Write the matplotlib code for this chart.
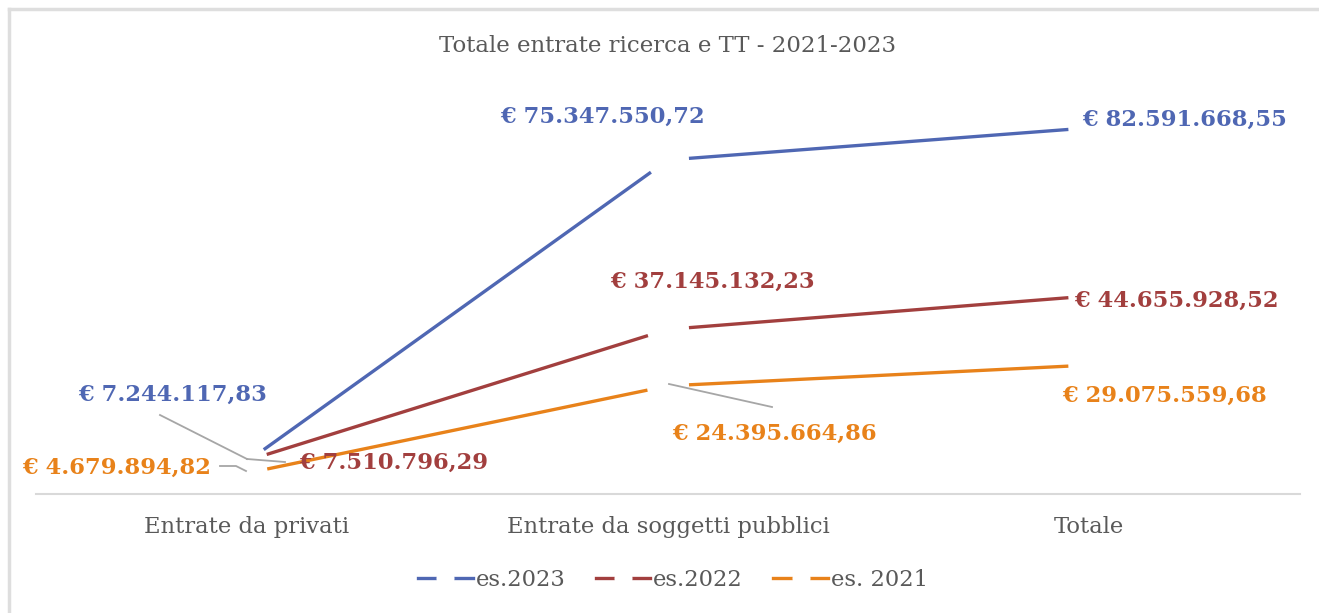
import numpy as np
import matplotlib.pyplot as plt
from matplotlib.lines import Line2D

# Entrate ricerca e TT per esercizio (euro)
categorie = ["Entrate da privati", "Entrate da soggetti pubblici", "Totale"]
es_2023 = [7244117.83, 75347550.72, 82591668.55]
es_2022 = [7510796.29, 37145132.23, 44655928.52]
es_2021 = [4679894.82, 24395664.86, 29075559.68]
serie_nomi = ["es.2023", "es.2022", "es. 2021"]

colori = ["#4f67b3", "#a23f3e", "#e8821a"]
grigio_testo = "#595959"
font = "DejaVu Serif"


def euro(v):
    s = f"{v:,.2f}"
    s = s.replace(",", "X").replace(".", ",").replace("X", ".")
    return "€ " + s


W, H = 1319, 613
fig = plt.figure(figsize=(W / 100, H / 100), dpi=100)
fig.patch.set_facecolor("white")

# area del grafico: x in pixel 36..1300, y in pixel 95..494
ax = fig.add_axes([36 / W, (H - 494) / H, (1300 - 36) / W, (494 - 95) / H])
ax.set_xlim(-0.5, 2.5)
ax.set_ylim(0, 90e6)
ax.axis("off")
ax.plot([-0.5, 2.5], [0, 0], color="#d9d9d9", lw=1.5, clip_on=False, zorder=1)

x = np.arange(len(categorie))
gap = 21  # pixel lasciati vuoti attorno a ogni punto

for vals, col in zip([es_2023, es_2022, es_2021], colori):
    pts = ax.transData.transform(np.column_stack([x, vals]))
    for p0, p1 in zip(pts[:-1], pts[1:]):
        u = (p1 - p0) / np.hypot(*(p1 - p0))
        a = ax.transData.inverted().transform([p0 + u * gap, p1 - u * gap])
        ax.plot(a[:, 0], a[:, 1], color=col, lw=2.4, solid_capstyle="butt", zorder=3)


# etichette dati (posizioni in pixel dell'immagine)
def px(xp, yp):
    return ax.transData.inverted().transform(
        fig.transFigure.transform((xp / W, (H - yp) / H)))


etichette = [
    (es_2023[0], colori[0], (173, 395)),
    (es_2023[1], colori[0], (602, 117)),
    (es_2023[2], colori[0], (1185, 120)),
    (es_2022[0], colori[1], (394, 463)),
    (es_2022[1], colori[1], (712, 282)),
    (es_2022[2], colori[1], (1176, 301)),
    (es_2021[0], colori[2], (117, 468)),
    (es_2021[1], colori[2], (774, 434)),
    (es_2021[2], colori[2], (1165, 396)),
]
for v, col, (xp, yp) in etichette:
    xd, yd = px(xp, yp)
    ax.text(xd, yd, euro(v), color=col, fontsize=16.3, fontweight="bold",
            family=font, ha="center", va="center", zorder=4)

# linee guida grigie
guide = [
    [(160, 415), (247, 459)],
    [(285, 462), (247, 459)],
    [(220, 466), (236, 466), (246, 471)],
    [(669, 384), (772, 407)],
]
for g in guide:
    c = np.array([px(*p) for p in g])
    ax.plot(c[:, 0], c[:, 1], color="#a6a6a6", lw=1.3, zorder=2)

# categorie sull'asse
for xi, nome in zip(x, categorie):
    ax.text(xi, px(0, 527)[1], nome, color=grigio_testo, fontsize=16.3,
            family=font, ha="center", va="center")

fig.text(668 / W, (H - 46) / H, "Totale entrate ricerca e TT - 2021-2023",
         color=grigio_testo, fontsize=16.5, family=font, ha="center", va="center")

handles = [Line2D([0], [0], color=c, lw=2.4, marker="o", markersize=13,
                  markerfacecolor="white", markeredgewidth=0) for c in colori]
leg = fig.legend(handles, serie_nomi, loc="center", bbox_to_anchor=(673 / W, (H - 580) / H),
                 ncol=3, frameon=False, handlelength=2.4, handletextpad=0.13,
                 columnspacing=1.35, prop={"family": font, "size": 16.3})
for t in leg.get_texts():
    t.set_color(grigio_testo)

# bordo dell'area grafico
fig.add_artist(Line2D([9 / W, 9 / W], [0, (H - 9) / H], color="#dedede", lw=2.5))
fig.add_artist(Line2D([9 / W, 1], [(H - 9) / H, (H - 9) / H], color="#dedede", lw=2.5))

fig.savefig("out.png", dpi=100)
